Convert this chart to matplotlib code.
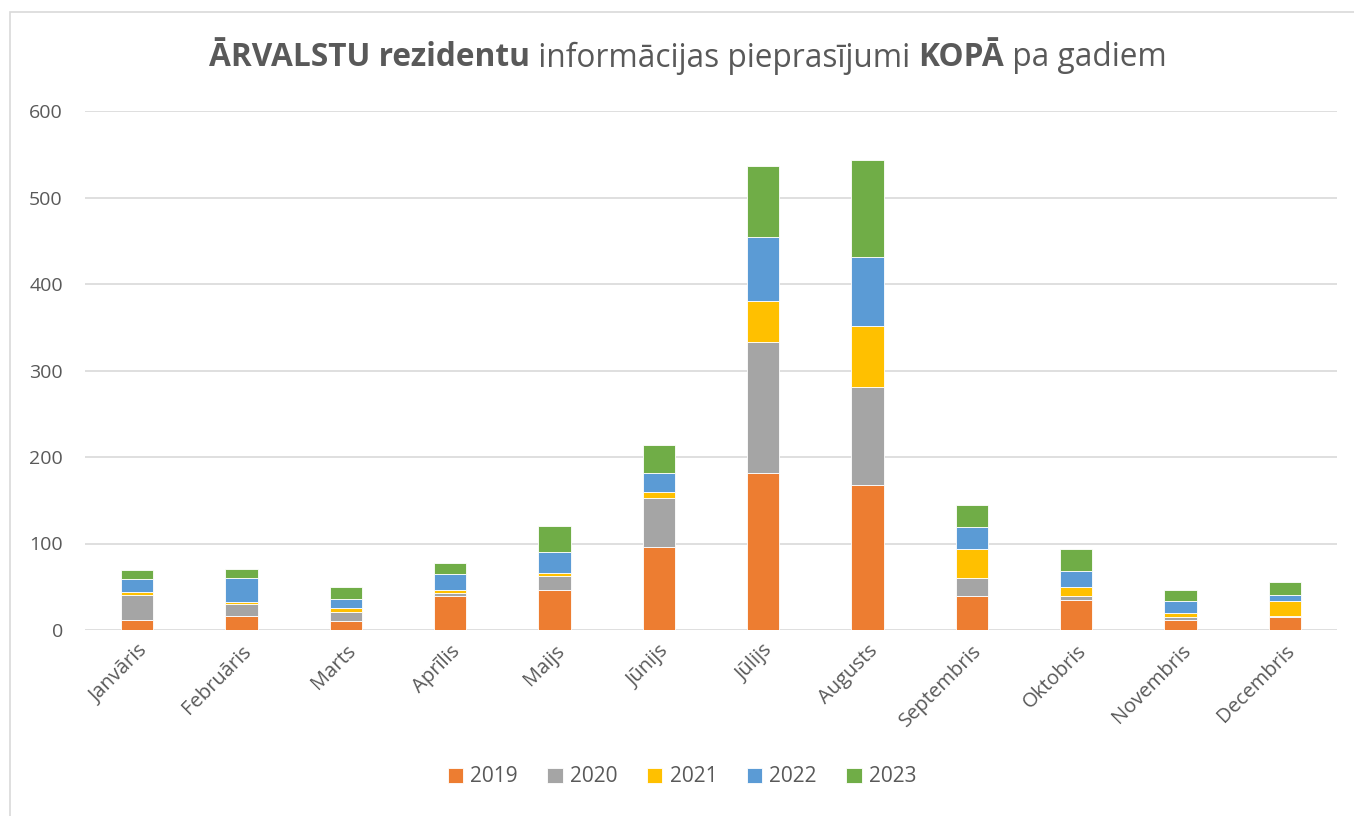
import matplotlib
matplotlib.use("Agg")
import matplotlib.pyplot as plt
from matplotlib.patches import Rectangle
import numpy as np

plt.rcParams['font.family'] = ['Open Sans', 'DejaVu Sans']

months = ["Janvāris", "Februāris", "Marts", "Aprīlis", "Maijs", "Jūnijs",
          "Jūlijs", "Augusts", "Septembris", "Oktobris", "Novembris", "Decembris"]
years = ["2019", "2020", "2021", "2022", "2023"]
v2019 = [11, 16, 10, 39, 46, 96, 182, 168, 39, 35, 11, 15]
v2020 = [29, 14, 11, 4, 16, 57, 151, 113, 21, 4, 4, 1]
v2021 = [4, 2, 5, 3, 4, 6, 47, 70, 34, 11, 5, 18]
v2022 = [15, 28, 10, 19, 24, 23, 74, 80, 25, 18, 14, 6]
v2023 = [10, 11, 14, 12, 30, 32, 82, 112, 26, 26, 12, 15]
series = [v2019, v2020, v2021, v2022, v2023]
colors = ["#ED7D31", "#A5A5A5", "#FFC000", "#5B9BD5", "#70AD47"]

W, H = 1354, 816
fig = plt.figure(figsize=(W / 100, H / 100), dpi=100)
ax = fig.add_axes([85 / W, 1 - 630 / H, (1337 - 85) / W, (630 - 111) / H])

# chart border
fig.patches.append(Rectangle((10 / W, -0.05), 1.2, 1 - 12 / H + 0.05,
                             transform=fig.transFigure, fill=False,
                             edgecolor="#D9D9D9", linewidth=1.2))

x = np.arange(len(months))
bottom = np.zeros(len(months))
handles = []
for yr, vals, c in zip(years, series, colors):
    b = ax.bar(x, vals, width=0.31, bottom=bottom, color=c, label=yr,
               edgecolor="white", linewidth=0.6, zorder=3)
    handles.append(b)
    bottom += np.array(vals)

ax.set_xlim(-0.5, len(months) - 0.5)
ax.set_ylim(0, 600)
ax.set_yticks(range(0, 601, 100))
ax.grid(axis="y", color="#D9D9D9", linewidth=1.2, zorder=0)
for s in ax.spines.values():
    s.set_visible(False)
ax.tick_params(axis="both", length=0, colors="#595959")
ax.tick_params(axis="y", pad=16, labelsize=14)
ax.set_xticks(x)
ax.set_xticklabels(months, rotation=45, ha="right", rotation_mode="anchor",
                   fontsize=14.5)
ax.tick_params(axis="x", pad=8)

leg = fig.legend(handles=handles, labels=years, loc="center",
                 bbox_to_anchor=(682 / W, 1 - 777 / H),
                 ncol=5, frameon=False, fontsize=15, handlelength=0.75,
                 handleheight=0.75, columnspacing=1.4, handletextpad=0.35)
for t in leg.get_texts():
    t.set_color("#595959")

# title with mixed weights
parts = [("ĀRVALSTU rezidentu", "bold"), (" informācijas pieprasījumi ", "normal"),
         ("KOPĀ", "bold"), (" pa gadiem", "normal")]
fig.canvas.draw()
renderer = fig.canvas.get_renderer()
texts = []
ty = 1 - 58 / H
for s, w in parts:
    t = fig.text(0, ty, s, fontsize=22.8, fontweight=w, color="#595959",
                 va="center", ha="left")
    texts.append(t)
widths = []
for t in texts:
    bb = t.get_window_extent(renderer=renderer)
    widths.append(bb.width / W)
total = sum(widths)
start = 688 / W - total / 2
for t, wdt in zip(texts, widths):
    t.set_x(start)
    start += wdt

fig.savefig("out.png", dpi=100)
